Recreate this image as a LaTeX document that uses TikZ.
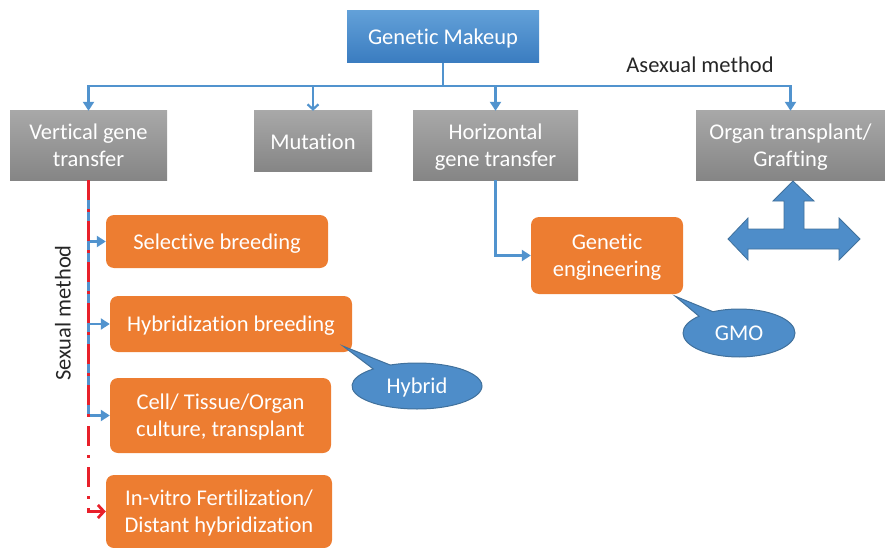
\documentclass[tikz,border=0pt]{standalone}
\usepackage{fontspec}
\setmainfont{Carlito}[Ligatures=NoCommon]
\usetikzlibrary{arrows.meta,shapes.callouts,shadings}

\definecolor{bluetop}{HTML}{62A0D8}
\definecolor{bluebot}{HTML}{3A7CC0}
\definecolor{graytop}{HTML}{A8A8A8}
\definecolor{graybot}{HTML}{858585}
\definecolor{boxorange}{HTML}{ED7D31}
\definecolor{lineblue}{HTML}{5193CE}
\definecolor{bubblefill}{HTML}{4E8DC9}
\definecolor{bubbleedge}{HTML}{41719C}
\definecolor{sexred}{HTML}{E8202A}
\definecolor{labeltext}{HTML}{262626}

\tikzset{
  base/.style={text=white, align=center, inner sep=0pt, text depth=0pt,
    font=\fontsize{22.5}{27}\selectfont},
  makeupbox/.style={base, top color=bluetop, bottom color=bluebot},
  graybox/.style={base, top color=graytop, bottom color=graybot},
  orangebox/.style={base, fill=boxorange, rounded corners=8pt},
  bubble/.style={ellipse callout, base, fill=bubblefill, draw=bubbleedge,
    line width=1pt, callout pointer arc=18},
  link/.style={draw=lineblue, line width=2.8pt,
    -{Triangle[width=11pt,length=9pt]}},
  sexual/.style={draw=sexred, line width=2.8pt,
    dash pattern=on 20pt off 9pt on 3pt off 9pt,
    -{Straight Barb[width=13pt,length=6pt,line width=2.8pt]}},
  methodlabel/.style={text=labeltext, font=\fontsize{22.5}{27}\selectfont}
}

\begin{document}
\begin{tikzpicture}[x=1pt,y=-1pt]
  \useasboundingbox (0,0) rectangle (885,548);

  % top level
  \node[makeupbox, minimum width=192pt, minimum height=52pt]
    (gm) at (443,37) {Genetic Makeup};
  \coordinate (bus) at (443,86);
  \node[methodlabel] (asex) at (700,65) {Asexual method};

  % gene transfer routes
  \node[graybox, minimum width=157pt, minimum height=69pt]
    (vgt) at (88.5,145.5) {Vertical gene\\transfer};
  \node[graybox, minimum width=118pt, minimum height=61pt]
    (mut) at (313,141.5) {Mutation};
  \node[graybox, minimum width=165pt, minimum height=69pt]
    (hgt) at (495.5,145.5) {Horizontal\\gene transfer};
  \node[graybox, minimum width=189pt, minimum height=69pt]
    (org) at (790.5,145.5) {Organ transplant/\\Grafting};

  % sexual methods
  \node[orangebox, minimum width=222pt, minimum height=53pt]
    (sel) at (217,241.5) {Selective breeding};
  \node[orangebox, minimum width=242pt, minimum height=56pt]
    (hyb) at (231,324) {Hybridization breeding};
  \node[orangebox, minimum width=221pt, minimum height=75pt]
    (cel) at (220.5,415.5) {Cell/ Tissue/Organ\\culture, transplant};
  \node[orangebox, minimum width=226pt, minimum height=73pt]
    (ivf) at (219,511.5) {In-vitro Fertilization/\\Distant hybridization};
  \node[methodlabel, rotate=90] (sex) at (63,313) {Sexual method};

  % asexual
  \node[orangebox, minimum width=152pt, minimum height=77pt]
    (ge) at (607,255.5) {Genetic\\engineering};

  % callouts
  \node[bubble, minimum width=130pt, minimum height=46pt,
    callout absolute pointer={([xshift=-9pt,yshift=6pt]hyb.south east)}]
    (hybrid) at (417,386) {Hybrid};
  \node[bubble, minimum width=112pt, minimum height=48pt,
    callout absolute pointer={([xshift=-8pt,yshift=-2pt]ge.south east)}]
    (gmo) at (739,333) {GMO};

  % connectors
  \draw[draw=lineblue, line width=2.8pt] (gm.south) -- (bus);
  \draw[link] (bus) -| (vgt.north);
  \draw[link, -{Straight Barb[width=11pt,length=5pt,line width=2.2pt]}]
    (bus) -| (mut.north);
  \draw[link] (bus) -| (hgt.north);
  \draw[link] (bus) -| (org.north);
  \draw[link] (hgt.south) |- (ge.west);
  \draw[link] (vgt.south) |- (sel.west);
  \draw[link] (vgt.south) |- (hyb.west);
  \draw[link] (vgt.south) |- (cel.west);
  \draw[sexual] (vgt.south) |- (ivf.west);

  % three-way arrow below grafting
  \draw[fill=bubblefill, draw=bubbleedge, line width=0.8pt]
    (793,181) -- (814,201) -- (804,201) -- (804,229) -- (839,229)
    -- (839,218) -- (860,239) -- (839,260) -- (839,249) -- (748,249)
    -- (748,260) -- (728,239) -- (748,218) -- (748,229) -- (784,229)
    -- (784,201) -- (773,201) -- cycle;
\end{tikzpicture}
\end{document}
